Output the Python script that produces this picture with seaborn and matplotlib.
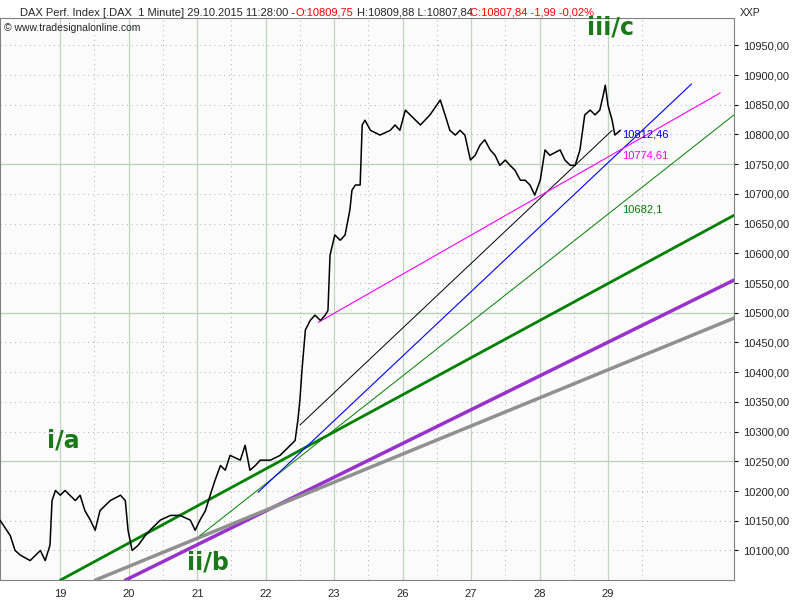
import matplotlib
matplotlib.use("Agg")
import matplotlib.pyplot as plt
import matplotlib.ticker as mticker
import seaborn as sns
import pandas as pd

# time in trading-day units (0 = 19th), DAX price
t = [-0.88, -0.73, -0.66, -0.58, -0.44, -0.29, -0.22, -0.15, -0.12, -0.07, 0, 0.07, 0.22, 0.29,
     0.36, 0.44, 0.51, 0.58, 0.73, 0.88, 0.95, 0.99, 1.05, 1.14, 1.24, 1.31, 1.46, 1.61, 1.75,
     1.90, 1.97, 2.04, 2.12, 2.19, 2.26, 2.34, 2.41, 2.48, 2.63, 2.70, 2.77, 2.85, 2.92, 3.07,
     3.21, 3.36, 3.43, 3.47, 3.50, 3.53, 3.58, 3.65, 3.72, 3.80, 3.87, 3.91, 3.94, 4.01, 4.09,
     4.16, 4.23, 4.26, 4.31, 4.38, 4.41, 4.45, 4.53, 4.67, 4.82, 4.89, 4.96, 5.04, 5.11, 5.26,
     5.40, 5.55, 5.62, 5.69, 5.77, 5.84, 5.91, 5.99, 6.06, 6.13, 6.20, 6.28, 6.35, 6.42, 6.50,
     6.57, 6.64, 6.72, 6.79, 6.86, 6.93, 7.01, 7.08, 7.15, 7.30, 7.37, 7.45, 7.52, 7.59, 7.66,
     7.74, 7.81, 7.88, 7.93, 7.96, 8.00, 8.06, 8.10, 8.18]
price = [10151, 10125, 10100, 10092, 10083, 10100, 10083, 10109, 10184, 10201, 10193, 10201,
         10184, 10193, 10167, 10151, 10134, 10167, 10184, 10193, 10184, 10134, 10100, 10109,
         10125, 10134, 10151, 10159, 10159, 10151, 10134, 10151, 10167, 10193, 10218, 10243,
         10235, 10260, 10252, 10277, 10235, 10243, 10252, 10252, 10260, 10277, 10285, 10319,
         10353, 10403, 10471, 10487, 10496, 10487, 10496, 10504, 10597, 10631, 10622, 10631,
         10673, 10706, 10715, 10715, 10816, 10824, 10807, 10799, 10807, 10816, 10807, 10841,
         10833, 10816, 10833, 10858, 10833, 10807, 10799, 10807, 10799, 10757, 10765, 10782,
         10791, 10774, 10765, 10748, 10757, 10748, 10740, 10723, 10723, 10715, 10698, 10723,
         10774, 10765, 10774, 10757, 10748, 10748, 10774, 10833, 10841, 10833, 10841, 10866,
         10883, 10849, 10824, 10799, 10807]

day_ticks = [0, 1, 2, 3, 4, 5, 6, 7, 8]
day_labels = ["19", "20", "21", "22", "23", "26", "27", "28", "29"]

# trend lines: (t0, p0, t1, p1, colour, width)
trend_lines = [
    (0.0, 10050, 9.84, 10664, "#008000", 2.0),
    (0.95, 10050, 9.84, 10555, "#9932cc", 2.5),
    (0.51, 10050, 9.84, 10491, "#909090", 2.5),
    (2.04, 10125, 9.84, 10833, "#008000", 0.7),
    (3.50, 10311, 8.06, 10807, "#000000", 0.7),
    (2.89, 10198, 9.22, 10885, "#0000ff", 0.8),
    (3.77, 10484, 9.64, 10870, "#ff00ff", 0.8),
]
level_labels = [(8.2, 10800, "10812,46", "#0000ff"),
                (8.2, 10765, "10774,61", "#ff00ff"),
                (8.2, 10673, "10682,1", "#008000")]
wave_labels = [(-0.2, 10285, "i/a"), (1.85, 10080, "ii/b"), (7.7, 10980, "iii/c")]

sns.set_style("white")
plt.rcParams["font.family"] = ["Liberation Sans", "DejaVu Sans"]

fig = plt.figure(figsize=(8, 6), dpi=100)
ax = fig.add_axes([0.0, 0.033, 0.9175, 0.937])
ax.set_facecolor("#fbfbfb")

ax.set_xlim(-0.88, 9.84)
ax.set_ylim(10050, 10996)

for y in range(10100, 10951, 50):
    if y % 250 == 0:
        ax.axhline(y, color="#b8d0b8", lw=0.9, zorder=0)
    else:
        ax.axhline(y, color="#b0b0b0", lw=0.7, ls=(0, (1, 4)), zorder=0)
for d in day_ticks:
    ax.axvline(d + 0.0, color="#c0d4c0", lw=0.9, zorder=0)
    ax.axvline(d + 0.5, color="#b0b0b0", lw=0.7, ls=(0, (1, 4)), zorder=0)

for t0, p0, t1, p1, c, w in trend_lines:
    ax.plot([t0, t1], [p0, p1], color=c, lw=w, zorder=2)

df = pd.DataFrame({"t": t, "price": price})
sns.lineplot(data=df, x="t", y="price", color="black", lw=1.1, ax=ax, zorder=3)

for x, y, s, c in level_labels:
    ax.text(x, y, s, color=c, fontsize=8, va="center")
for x, y, s in wave_labels:
    ax.text(x, y, s, color="#1a7a1a", fontsize=17, fontweight="bold", va="center",
            family=["DejaVu Sans"])

ax.yaxis.tick_right()
ax.set_yticks(range(10100, 10951, 50))
ax.yaxis.set_major_formatter(mticker.FuncFormatter(lambda v, p: f"{v:.2f}".replace(".", ",")))
ax.set_xticks(day_ticks)
ax.set_xticklabels(day_labels)
ax.tick_params(axis="both", labelsize=8, length=3, direction="out", color="black")
ax.set_xlabel("")
ax.set_ylabel("")
for s in ax.spines.values():
    s.set_color("#808080")

fig.text(0.025, 0.987, "DAX Perf. Index [.DAX  1 Minute] 29.10.2015 11:28:00 -", fontsize=8, va="top")
fig.text(0.369, 0.987, "O:10809,75", fontsize=8, va="top", color="red")
fig.text(0.446, 0.987, "H:10809,88 L:10807,84", fontsize=8, va="top")
fig.text(0.588, 0.987, "C:10807,84 -1,99 -0,02%", fontsize=8, va="top", color="red")
fig.text(0.005, 0.962, "© www.tradesignalonline.com", fontsize=7.5, va="top")
fig.text(0.925, 0.987, "XXP", fontsize=7.5, va="top")

fig.savefig("out.png", dpi=100)
